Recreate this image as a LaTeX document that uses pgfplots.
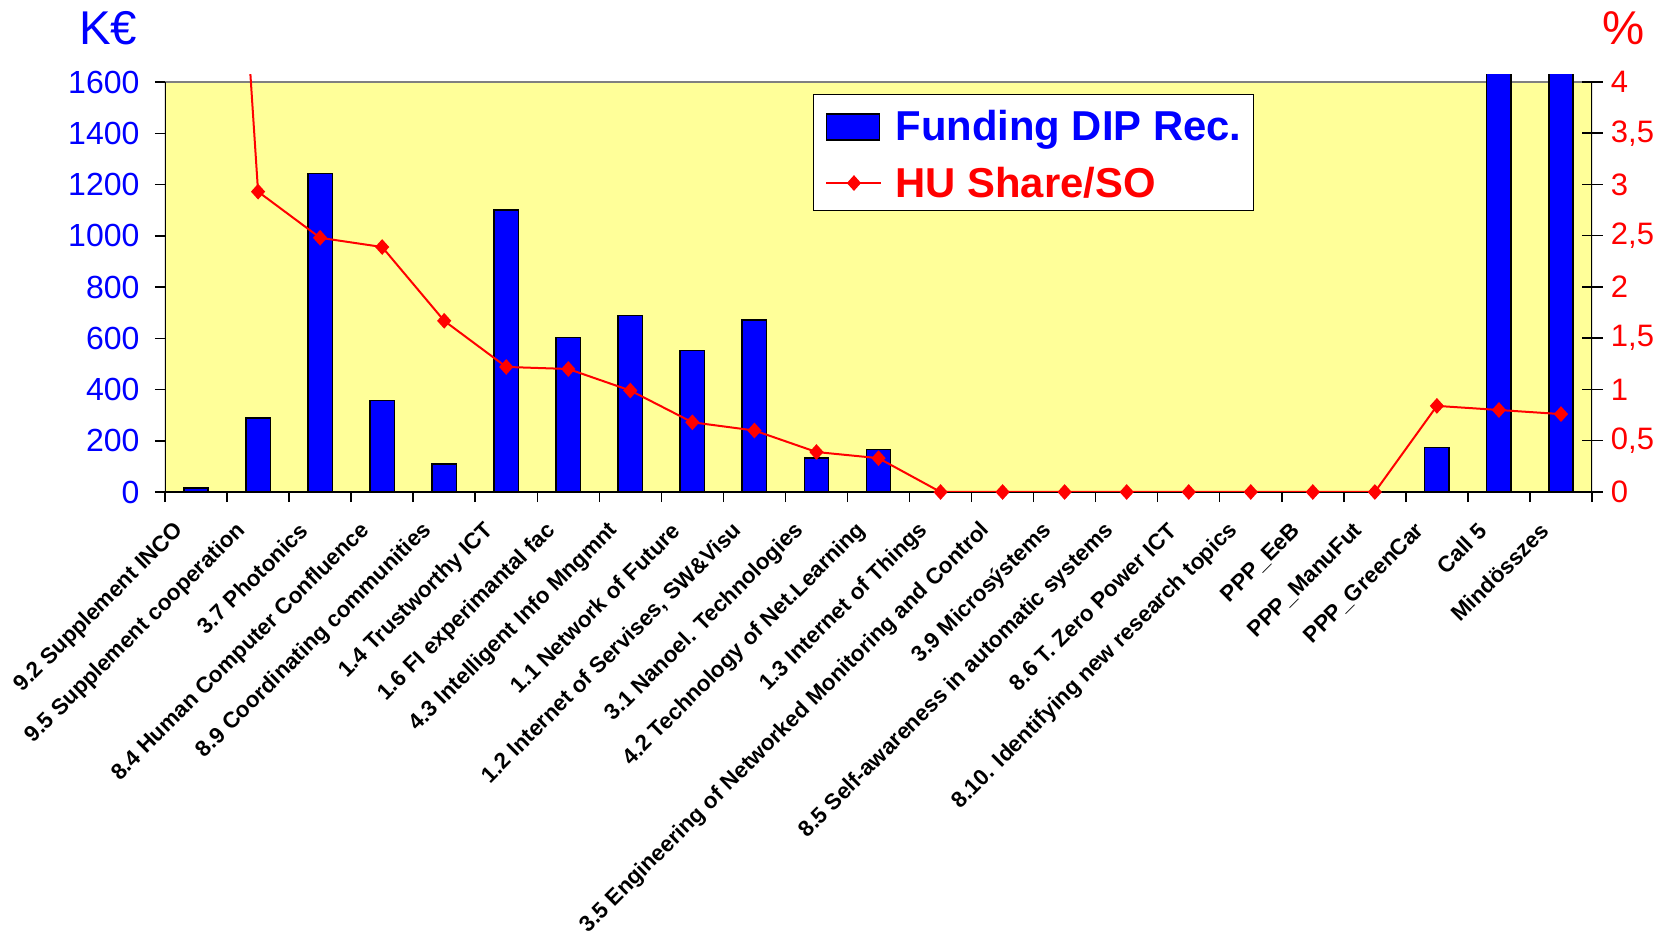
\documentclass[border=0pt]{standalone}
\usepackage{pgfplots}
\pgfplotsset{compat=1.18}
\usepackage{fontspec}
\setmainfont{Liberation Sans}
\definecolor{cblue}{RGB}{0,0,255}
\definecolor{cred}{RGB}{255,0,0}
\definecolor{cyellow}{RGB}{255,255,153}
\definecolor{cgray}{RGB}{128,128,128}
\pgfplotsset{
  common/.style={
    at={(82.5pt,225.5pt)}, anchor=south west,
    scale only axis, width=713.5pt, height=208.97pt,
    xmin=0.5, xmax=23.5,
    /pgf/number format/assume math mode=true,
    /pgf/number format/1000 sep={},
    tick style={black, line width=0.75pt},
  },
  barlegend/.style={legend image code/.code={\draw[fill=cblue, draw=black, line width=0.75pt] (0pt,-7.8pt) rectangle (26.5pt,5.2pt);}},
  linelegend/.style={legend image code/.code={\draw[##1, mark repeat=2, mark phase=2] plot coordinates {(0pt,-1pt) (13.75pt,-1pt) (27.5pt,-1pt)};}},
}
\begin{document}
\begin{tikzpicture}
\path[use as bounding box] (0,0) rectangle (836pt,471.5pt);
% --- bars, left axis (K EUR)
\begin{axis}[common,
  ymin=0, ymax=1631,
  axis lines*=left,
  y axis line style={draw=none},
  x axis line style={black, line width=1.2pt},
  ytick={0,200,...,1600},
  xtick={0.5,1.5,...,23.5},
  xticklabels={{9.2 Supplement INCO},{9.5 Supplement cooperation},{3.7 Photonics},{8.4 Human Computer Confluence},{8.9 Coordinating communities},{1.4 Trustworthy ICT},{1.6 FI experimantal fac},{4.3 Intelligent Info Mngmnt},{1.1 Network of Future},{1.2 Internet of Servises, SW\&Visu},{3.1 Nanoel. Technologies},{4.2 Technology of Net.Learning},{1.3 Internet of Things},{3.5 Engineering of Networked Monitoring and Control},{3.9 Microsýstems},{8.5 Self-awareness in automatic systems},{8.6 T. Zero Power ICT},{8.10. Identifying new research topics},{PPP\_EeB},{PPP\_ManuFut},{PPP\_GreenCar},{Call 5},{Mindösszes},{}},
  tick align=outside,
  major tick length=5pt,
  yticklabel style={font=\fontsize{16}{19}\selectfont, text=cblue, anchor=east, inner sep=0pt, xshift=-7.6pt},
  xticklabel style={font=\fontsize{11.2}{13}\selectfont\bfseries, xshift=7.5pt, yshift=-12.5pt, rotate=45, anchor=east, inner sep=0pt},
  axis on top,
]
\fill[cyellow] (axis cs:0.5,0) rectangle (axis cs:23.5,1600);
\draw[cgray, line width=0.75pt] (axis cs:0.5,1600) -- (axis cs:23.5,1600);
\addplot[ybar, bar width=12.2pt, fill=cblue, draw=black, line width=0.75pt] coordinates {
(1,15) (2,288) (3,1243) (4,358) (5,109) (6,1101) (7,603) (8,689) (9,552) (10,672)
(11,133) (12,165) (13,0) (14,0) (15,0) (16,0) (17,0) (18,0) (19,0) (20,0)
(21,173) (22,6110) (23,6110)
};
\draw[black, line width=0.75pt] (axis cs:0.5,0) -- (axis cs:0.5,1600);
\end{axis}
% --- line, right axis (%)
\begin{axis}[common,
  ymin=0, ymax=4.0775,
  axis x line=none,
  axis y line*=right,
  y axis line style={draw=none},
  xtick=\empty,
  ytick={0,0.5,...,4},
  /pgf/number format/use comma,
  /pgf/number format/1000 sep={},
  tick align=center,
  major tick length=10.5pt,
  yticklabel style={font=\fontsize{15.5}{18}\selectfont, text=cred, anchor=west, inner sep=0pt, xshift=4pt},
  legend style={at={(axis description cs:0.4539,0.9523)}, anchor=north west,
    draw=black, line width=0.75pt, fill=white,
    inner xsep=6pt, inner ysep=5.3pt, row sep=9.35pt,
    nodes={inner sep=0pt, text height=17.7pt, text depth=1.3pt, font=\fontsize{20.9}{24}\selectfont\bfseries},
    /tikz/every odd column/.append style={column sep=6.5pt}},
  legend cell align=left,
]
\draw[black, line width=0.75pt] (axis cs:23.5,0) -- (axis cs:23.5,4);
\addlegendimage{barlegend}
\addlegendentry{\textcolor{cblue}{Funding DIP Rec.}}
\addplot[cred, line width=1pt, mark=diamond*, mark size=3.2pt,
  mark options={solid, fill=cred, draw=cred, xscale=1.2}, linelegend] coordinates {
(1,12.2) (2,2.93) (3,2.48) (4,2.39) (5,1.67) (6,1.22) (7,1.20) (8,0.99) (9,0.68) (10,0.60)
(11,0.39) (12,0.33) (13,0) (14,0) (15,0) (16,0) (17,0) (18,0) (19,0) (20,0)
(21,0.84) (22,0.80) (23,0.76)
};
\addlegendentry{\textcolor{cred}{HU Share/SO}}
\end{axis}
\node[anchor=base, text=cblue, font=\fontsize{23.7}{28}\selectfont] at (54pt,449pt) {K€};
\node[anchor=base, text=cred, font=\fontsize{23.7}{28}\selectfont] at (812pt,449pt) {\%};
\end{tikzpicture}
\end{document}
